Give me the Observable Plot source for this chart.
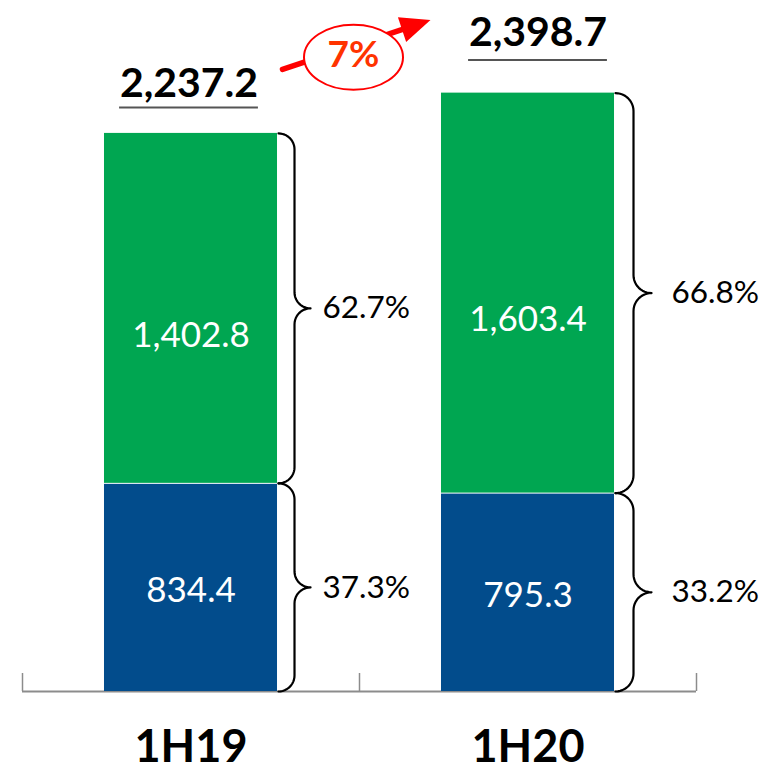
<!DOCTYPE html>
<html><head><meta charset="utf-8">
<script src="https://cdn.jsdelivr.net/npm/d3@7"></script>
<script src="https://cdn.jsdelivr.net/npm/@observablehq/plot@0.6"></script>
<style>body{margin:0;background:#fff} #chart svg{display:block}</style>
</head><body><div id="chart"></div>
<script>
// ---- data ----
const categories = ["1H19", "1H20"];
const blueValues = [834.4, 795.3];
const greenValues = [1402.8, 1603.4];
const totals = [2237.2, 2398.7];
const bluePct = ["37.3%", "33.2%"];
const greenPct = ["62.7%", "66.8%"];
const growthLabel = "7%";

// ---- layout ----
const W = 779, H = 779;
const xDomain = [0, 2], xRange = [22, 696];
const yDomain = [0, 2770], yRange = [691, 0];
const xs = d3.scaleLinear(xDomain, xRange), ys = d3.scaleLinear(yDomain, yRange);
const halfW = 0.2567;
const FONT = "Lato, 'Open Sans', sans-serif";
const GREEN = "#00a651", BLUE = "#024c8c";
const totalDy = [-50, -60], totalDx = [-2, 10];
const underDy = [-26, -33], underHalf = 0.206;
const braceR = [16, 18], pctDx = [45, 57];
const fmt = d3.format(",.1f");

const rows = [];
categories.forEach((c, i) => {
  rows.push({cat: c, i, cx: i + 0.5, seg: "blue", y1: 0, y2: blueValues[i], value: blueValues[i], pct: bluePct[i]});
  rows.push({cat: c, i, cx: i + 0.5, seg: "green", y1: blueValues[i], y2: blueValues[i] + greenValues[i], value: greenValues[i], pct: greenPct[i]});
});

function bracePoints(r) {
  const x0 = xs(r.cx + halfW) + 1, top = ys(r.y2), bot = ys(r.y1), mid = (top + bot) / 2, R = braceR[r.i];
  const pts = [];
  const arc = (cx, cy, a0, a1) => {
    for (let k = 0; k <= 12; k++) {
      const a = (a0 + (a1 - a0) * k / 12) * Math.PI / 180;
      pts.push([cx + R * Math.cos(a), cy + R * Math.sin(a)]);
    }
  };
  arc(x0, top + R, -90, 0);
  arc(x0 + 2 * R, mid - R, 180, 90);
  arc(x0 + 2 * R, mid + R, -90, -180);
  arc(x0, bot - R, 0, 90);
  return pts.map(([px, py]) => ({key: r.cat + r.seg, x: xs.invert(px), y: ys.invert(py)}));
}
const braces = rows.flatMap(bracePoints);

// growth arrow geometry, anchored on the two totals
const start = [xs(0.5 + halfW) + 5, ys(totals[0]) - 64];
const tip = [xs(1.5 - halfW) - 11, ys(totals[1]) - 73];
const len = Math.hypot(tip[0] - start[0], tip[1] - start[1]);
const u = [(tip[0] - start[0]) / len, (tip[1] - start[1]) / len];
const nrm = [-u[1], u[0]];
const headL = 30, headHW = 13;
const base = [tip[0] - headL * u[0], tip[1] - headL * u[1]];
const shaft = [
  {x: xs.invert(start[0]), y: ys.invert(start[1])},
  {x: xs.invert(base[0] + 3 * u[0]), y: ys.invert(base[1] + 3 * u[1])}
];
const headSymbol = {draw(ctx) {
  ctx.moveTo(0, 0);
  ctx.lineTo(-headL * u[0] + headHW * nrm[0], -headL * u[1] + headHW * nrm[1]);
  ctx.lineTo(-headL * u[0] - headHW * nrm[0], -headL * u[1] - headHW * nrm[1]);
  ctx.closePath();
}};
const ellCenter = [(start[0] + tip[0]) / 2 - 3, (start[1] + tip[1]) / 2 + 12.5];
const ellipseSymbol = {draw(ctx) {
  const rx = 49.5, ry = 32.5, k = 0.5523;
  ctx.moveTo(rx, 0);
  ctx.bezierCurveTo(rx, ry * k, rx * k, ry, 0, ry);
  ctx.bezierCurveTo(-rx * k, ry, -rx, ry * k, -rx, 0);
  ctx.bezierCurveTo(-rx, -ry * k, -rx * k, -ry, 0, -ry);
  ctx.bezierCurveTo(rx * k, -ry, rx, -ry * k, rx, 0);
  ctx.closePath();
}};
const ellData = [{x: xs.invert(ellCenter[0]), y: ys.invert(ellCenter[1]), label: growthLabel}];

const marks = [
  // axis baseline and ticks
  Plot.ruleY([0], {x1: xDomain[0], x2: xDomain[1], stroke: "#8c8c8c", strokeWidth: 2}),
  Plot.ruleX([0, 1, 2], {y1: 0, y2: ys.invert(yRange[0] - 18), stroke: "#8c8c8c", strokeWidth: 1.5}),
  // bars
  Plot.rect(rows.filter(d => d.seg === "blue"), {x1: d => d.cx - halfW, x2: d => d.cx + halfW, y1: "y1", y2: "y2", fill: BLUE, insetTop: 1}),
  Plot.rect(rows.filter(d => d.seg === "green"), {x1: d => d.cx - halfW, x2: d => d.cx + halfW, y1: "y1", y2: "y2", fill: GREEN}),
  // labels inside bars
  Plot.text(rows.filter(d => d.seg === "green"), {x: "cx", y: d => (d.y1 + d.y2) / 2, text: d => fmt(d.value), dy: 27, fill: "white", fontSize: 35}),
  Plot.text(rows.filter(d => d.seg === "blue"), {x: "cx", y: d => (d.y1 + d.y2) / 2, text: d => fmt(d.value), dy: 3, fill: "white", fontSize: 35}),
  // braces and percent labels
  Plot.line(braces, {x: "x", y: "y", z: "key", stroke: "black", strokeWidth: 2.2, curve: "linear"}),
  Plot.text(rows.filter(d => d.i === 0), {x: d => d.cx + halfW, y: d => (d.y1 + d.y2) / 2, text: "pct", dx: pctDx[0], textAnchor: "start", fill: "black", fontSize: 31.5}),
  Plot.text(rows.filter(d => d.i === 1), {x: d => d.cx + halfW, y: d => (d.y1 + d.y2) / 2, text: "pct", dx: pctDx[1], textAnchor: "start", fill: "black", fontSize: 31.5}),
  // category labels
  Plot.text(categories, {x: (d, i) => i + 0.5, y: 0, text: d => d, dy: 56, fontWeight: 700, fontSize: 45, fill: "black"}),
  // growth arrow
  Plot.line(shaft, {x: "x", y: "y", stroke: "#ff0000", strokeWidth: 5.5}),
  Plot.dot([{x: xs.invert(tip[0]), y: ys.invert(tip[1])}], {x: "x", y: "y", symbol: headSymbol, fill: "#ff0000", stroke: "none"}),
  Plot.dot(ellData, {x: "x", y: "y", symbol: ellipseSymbol, fill: "white", stroke: "#ff0000", strokeWidth: 2}),
  Plot.text(ellData, {x: "x", y: "y", text: "label", fill: "#ff3300", fontWeight: 700, fontSize: 37, dy: -2})
];
categories.forEach((c, i) => {
  marks.push(Plot.text([totals[i]], {x: () => i + 0.5, y: d => d, text: d => fmt(d), dy: totalDy[i], dx: totalDx[i], fontWeight: 700, fontSize: 41, fill: "black"}));
  marks.push(Plot.ruleY([totals[i]], {y: d => d, x1: i + 0.5 - underHalf, x2: i + 0.5 + underHalf, dy: underDy[i], dx: totalDx[i], stroke: "#555", strokeWidth: 2}));
});

const chart = Plot.plot({
  width: W, height: H, margin: 0,
  x: {type: "linear", domain: xDomain, range: xRange, axis: null},
  y: {type: "linear", domain: yDomain, range: yRange, axis: null},
  style: {fontFamily: FONT, background: "white", overflow: "visible"},
  marks
});
document.getElementById("chart").appendChild(chart);
</script>
</body></html>
